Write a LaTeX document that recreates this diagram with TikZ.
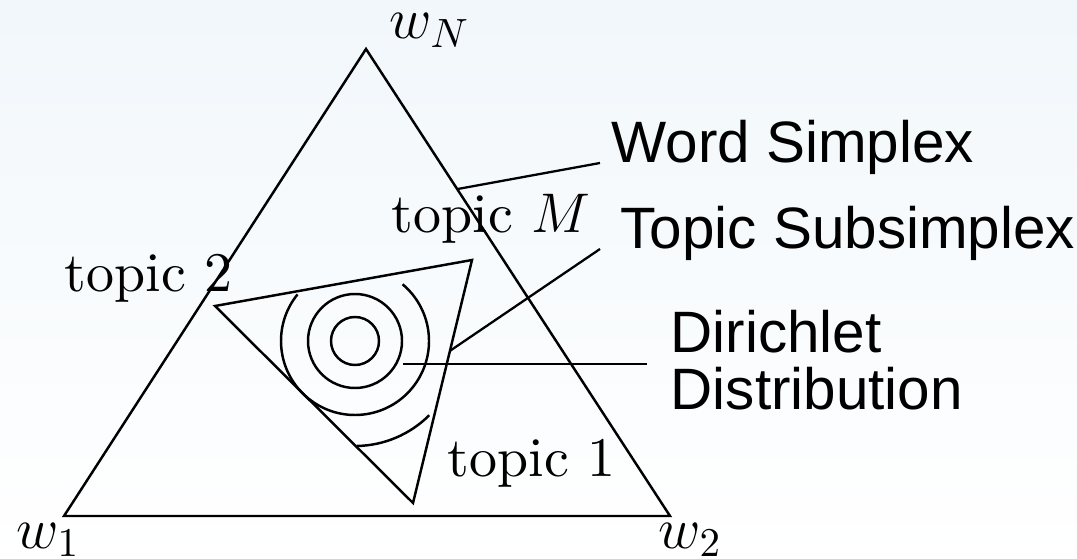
\documentclass[tikz,border=0pt]{standalone}
\usepackage{fix-cm}
\usepackage{fontspec}
\setmainfont{lmroman10-regular.otf}[ItalicFont=lmroman10-italic.otf, BoldFont=lmroman10-bold.otf]
\setsansfont{Liberation Sans}
\usetikzlibrary{calc}
\definecolor{bgtop}{HTML}{F1F7FB}

\begin{document}
\begin{tikzpicture}[
  x=0.01cm, y=0.01cm,
  edge/.style={line width=0.7pt},
  lead/.style={line width=0.65pt},
  vertex/.style={font=\fontsize{16.6}{19}\selectfont, inner sep=0pt, anchor=base west},
  topic/.style={font=\fontsize{15.9}{19}\selectfont, inner sep=0pt, anchor=base west},
  callout/.style={font=\sffamily\fontsize{16.6}{16.1}\selectfont, inner ysep=0pt, align=left},
]

% Background
\shade[top color=bgtop, bottom color=white] (0,0) rectangle (1077,558);
\useasboundingbox (0,0) rectangle (1077,558);

% === Word simplex ===
\coordinate (w1) at (64,42);
\coordinate (w2) at (670,42);
\coordinate (wN) at (366,509);
\draw[edge] (w1) -- (w2) -- (wN) -- cycle;

\node[vertex] (lw1) at (16,10) {$w_1$};
\node[vertex] (lw2) at (658,10) {$w_2$};
\node[vertex] (lwN) at (389,519) {$w_N$};

% === Topic subsimplex ===
\coordinate (t1) at (413,55);
\coordinate (t2) at (215,252);
\coordinate (tM) at (472,298);
\draw[edge] (t1) -- (t2) -- (tM) -- cycle;

\node[topic] (lt1) at (447,81) {topic 1};
\node[topic] (lt2) at (64,266) {topic 2};
\node[topic] (ltM) at (391,325) {topic $M$};

% === Dirichlet contours ===
\coordinate (mode) at (355,217);
\draw[edge] (mode) circle[radius=24];
\draw[edge] (mode) circle[radius=47];
\draw[edge] ($(mode)+(141:74)$) arc[start angle=141, end angle=410, radius=74];
\draw[edge] ($(mode)+(-89:105)$) arc[start angle=-89, end angle=-45, radius=105];

% === Callouts ===
\node[callout, anchor=base west, inner xsep=0.11cm] (word) at (600,395) {Word Simplex};
\node[callout, anchor=base west, inner xsep=0.2cm] (sub) at (600,309) {Topic Subsimplex};
\node[callout, anchor=west, inner xsep=0.23cm] (diri) at (647,198) {Dirichlet\\Distribution};

\coordinate (peak) at (403,194);
\draw[lead] ($(wN)!0.3!(w2)$) -- (word.base west);
\draw[lead] ($(tM)!0.374!(t1)$) -- (sub.base west);
\draw[lead] (peak) -- (peak -| diri.west);

\end{tikzpicture}
\end{document}
